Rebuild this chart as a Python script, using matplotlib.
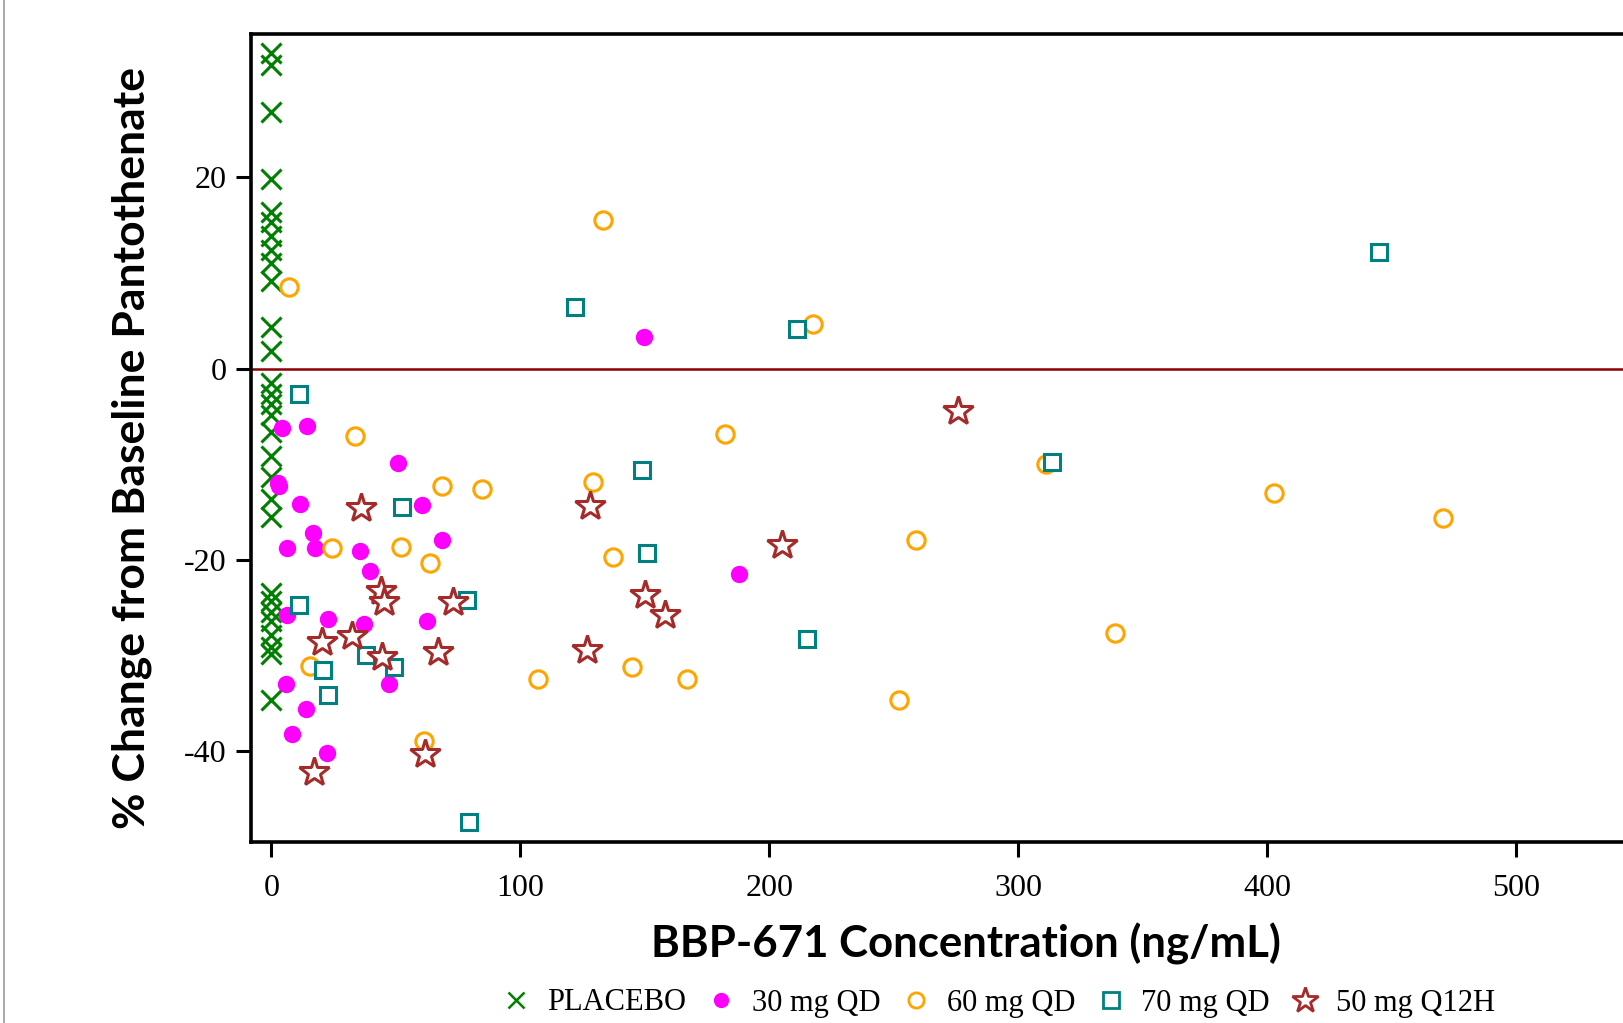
import matplotlib
matplotlib.use("Agg")
import matplotlib.pyplot as plt
from matplotlib.lines import Line2D

placebo_y = [33.0, 31.8, 26.8, 19.8, 16.4, 15.3, 13.9, 12.4, 11.0, 9.2, 4.4, 1.8,
             -1.5, -2.7, -3.7, -4.8, -6.6, -9.1, -11.3, -13.6, -15.5,
             -23.5, -24.3, -25.4, -26.4, -27.8, -29.1, -29.8, -34.6]
placebo_x = [0.0] * len(placebo_y)

qd30_x = [4.4, 14.2, 50.7, 2.8, 3.2, 11.4, 60.6, 16.8, 6.4, 17.5, 35.6, 68.6, 39.6,
          6.1, 22.6, 37.3, 62.4, 5.9, 47.3, 13.8, 8.2, 22.2, 149.7, 187.6]
qd30_y = [-6.2, -6.0, -9.9, -12.0, -12.3, -14.2, -14.3, -17.2, -18.8, -18.8, -19.1, -17.9, -21.2,
          -25.8, -26.2, -26.7, -26.4, -33.0, -33.0, -35.6, -38.2, -40.2, 3.3, -21.5]

qd60_x = [33.6, 68.4, 84.5, 24.5, 52.2, 63.8, 15.5, 61.3, 182.0, 129.0, 137.1, 107.1,
          144.9, 166.9, 7.0, 133.1, 217.5, 258.7, 311.1, 402.6, 470.4, 338.6, 252.1]
qd60_y = [-7.0, -12.3, -12.6, -18.8, -18.6, -20.3, -31.1, -38.9, -6.8, -11.8, -19.7, -32.5,
          -31.2, -32.5, 8.5, 15.5, 4.7, -17.9, -10.0, -13.0, -15.6, -27.6, -34.6]

qd70_x = [11.1, 52.3, 11.1, 78.7, 20.6, 38.0, 49.4, 22.9, 79.4, 149.0, 150.8, 215.0,
          121.8, 210.9, 313.6, 444.7]
qd70_y = [-2.7, -14.5, -24.7, -24.2, -31.5, -29.9, -31.2, -34.1, -47.4, -10.6, -19.3, -28.3,
          6.4, 4.2, -9.8, 12.2]

q12h_x = [36.0, 43.9, 45.2, 73.1, 20.4, 32.5, 44.3, 66.8, 17.0, 61.7, 128.0, 204.9,
          150.0, 158.1, 126.9, 275.7]
q12h_y = [-14.6, -23.2, -24.4, -24.4, -28.6, -28.0, -30.2, -29.6, -42.2, -40.3, -14.4, -18.4,
          -23.7, -25.8, -29.4, -4.4]

x_ticks = [0, 100, 200, 300, 400, 500]
y_ticks = [-40, -20, 0, 20]
legend_labels = ["PLACEBO", "30 mg QD", "60 mg QD", "70 mg QD", "50 mg Q12H"]

W, H = 1624, 1023
fig = plt.figure(figsize=(W / 100, H / 100), dpi=100)

left_px, top_px, bottom_px = 250.6, 34.0, 842.0
x0_px, ppu_x = 271.4, 2.49
xmin = (left_px - x0_px) / ppu_x
xmax = 560.0
right_px = x0_px + xmax * ppu_x
ax = fig.add_axes([left_px / W, 1 - bottom_px / H, (right_px - left_px) / W, (bottom_px - top_px) / H])

ax.axhline(0, color="#8b0000", lw=1.8, zorder=1)

green = "#008000"
magenta = "#ff00ff"
orange = "#ffa500"
teal = "#008080"
brown = "#a52a2a"

ax.plot(placebo_x, placebo_y, ls="none", marker="x", ms=14, mew=2.2, color=green, zorder=3)
ax.plot(qd30_x, qd30_y, ls="none", marker="o", ms=12.5, mew=0, color=magenta, zorder=3)
ax.plot(qd60_x, qd60_y, ls="none", marker="o", ms=12.5, mew=2.2, mfc="white", mec=orange, zorder=3)
ax.plot(qd70_x, qd70_y, ls="none", marker="s", ms=12, mew=2.2, mfc="white", mec=teal, zorder=3)
ax.plot(q12h_x, q12h_y, ls="none", marker="*", ms=22, mew=2.2, mfc="white", mec=brown, zorder=4)

ax.set_xlim(xmin, xmax)
ax.set_ylim(-49.5, 35.0)
ax.set_xticks(x_ticks)
ax.set_yticks(y_ticks)
ax.set_xticklabels([str(v) for v in x_ticks])
ax.set_yticklabels([str(v) for v in y_ticks])
ax.tick_params(axis="both", direction="out", length=11, width=2.2, labelsize=23)
ax.tick_params(axis="x", pad=12)
ax.tick_params(axis="y", pad=6)
for lab in ax.get_xticklabels() + ax.get_yticklabels():
    lab.set_family("Liberation Serif")
for sp in ax.spines.values():
    sp.set_linewidth(2.6)

fig.text(966 / W, 1 - 944 / H, "BBP-671 Concentration (ng/mL)", ha="center", va="center",
         fontsize=31.5, fontweight="bold", family="Lato")
fig.text(132 / W, 1 - 448 / H, "% Change from Baseline Pantothenate", ha="center", va="center",
         rotation=90, fontsize=32, fontweight="bold", family="Lato")

handles = [
    Line2D([], [], ls="none", marker="x", ms=11, mew=1.8, color=green),
    Line2D([], [], ls="none", marker="o", ms=11, mew=0, color=magenta),
    Line2D([], [], ls="none", marker="o", ms=11, mew=2, mfc="white", mec=orange),
    Line2D([], [], ls="none", marker="s", ms=11, mew=2, mfc="white", mec=teal),
    Line2D([], [], ls="none", marker="*", ms=19, mew=2, mfc="white", mec=brown),
]
fig.legend(handles, legend_labels, loc="center", bbox_to_anchor=(998 / W, 1 - 1003 / H),
           ncol=5, frameon=False, prop={"family": "Liberation Serif", "size": 22},
           handletextpad=0.5, columnspacing=0.66, handlelength=1.0)

fig.add_artist(Line2D([4.5 / W, 4.5 / W], [0, 1], color="#999999", lw=1.2, transform=fig.transFigure))

fig.savefig("out.png", dpi=100)
